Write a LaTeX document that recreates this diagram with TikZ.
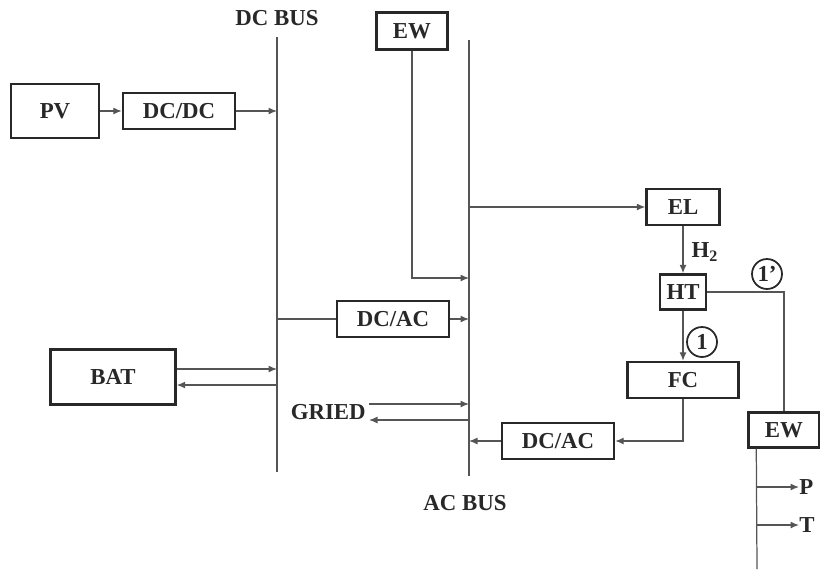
\documentclass[tikz,border=0pt]{standalone}
\usepackage{fontspec}
\setmainfont{Liberation Serif}
\definecolor{wirecol}{RGB}{85,85,85}
\definecolor{edgecol}{RGB}{40,40,40}
\usetikzlibrary{arrows.meta,calc}

\begin{document}
\begin{tikzpicture}[x=0.02cm,y=-0.02cm,
    lbl/.style={font=\fontsize{13}{15}\selectfont\bfseries,inner sep=0pt,text=edgecol},
    blk/.style 2 args={draw=edgecol,line width=1.4pt,lbl,minimum width=#1*0.02cm,minimum height=#2*0.02cm},
    ring/.style={draw=edgecol,circle,line width=1pt,lbl,minimum size=0.6cm},
    wire/.style={draw=wirecol,line width=0.7pt},
    >={Latex[length=1.7mm,width=1.4mm]}]
  \useasboundingbox (0,0) rectangle (820,569);
  \node[blk={88}{54}] (pv) at (55,111) {PV};
  \node[blk={112}{36}] (dcdc) at (179,111) {DC/DC};
  \node[blk={71}{37}] (ewt) at (412,31) {EW};
  \node[blk={112}{36}] (dcac) at (393,319) {DC/AC};
  \node[blk={125}{55}] (bat) at (113,377) {BAT};
  \node[blk={73}{36}] (el) at (683,207) {EL};
  \node[blk={46}{35}] (ht) at (683,292) {HT};
  \node[blk={111}{36}] (fc) at (683,380) {FC};
  \node[blk={112}{36}] (dcacb) at (558,441) {DC/AC};
  \node[blk={71}{35}] (ewr) at (784,430) {EW};
  \node[lbl] (dclbl) at (277,18) {DC BUS};
  \node[lbl] (aclbl) at (465,503) {AC BUS};
  \node[lbl,anchor=east] (gried) at (366,412) {GRIED};
  \node[lbl] (h2) at (705,252) {H\textsubscript{2}};
  \node[ring] (one) at (702,342) {1};
  \node[ring] (onep) at (767,274) {1'};
  \node[lbl,anchor=west] (p) at (799,487) {P};
  \node[lbl,anchor=west] (t) at (799,525) {T};
  \coordinate (dca) at (277,37);
  \coordinate (dcb) at (277,472);
  \coordinate (aca) at (469,40);
  \coordinate (acb) at (469,476);
  \coordinate (acew) at (469,278);
  \coordinate (batin) at ($(bat.east)+(0,-8)$);
  \coordinate (batout) at ($(bat.east)+(0,8)$);
  \coordinate (grin) at ($(gried.east)+(3,-8)$);
  \coordinate (grout) at ($(gried.east)+(3,8)$);
  \coordinate (tap) at ($(ewr.south west)+(9,0)$);
  \coordinate (tapend) at (757,569);
  \draw[wire] (dca) -- (dcb);
  \draw[wire] (aca) -- (acb);
  \draw[wire,->] (pv) -- (dcdc);
  \draw[wire,->] (dcdc) -- (dcdc -| dca);
  \draw[wire] (dcac -| dca) -- (dcac);
  \draw[wire,->] (dcac) -- (dcac -| aca);
  \draw[wire,->] (batin) -- (batin -| dca);
  \draw[wire,->] (batout -| dca) -- (batout);
  \draw[wire,->] (grin) -- (grin -| aca);
  \draw[wire,->] (grout -| aca) -- (grout);
  \draw[wire,->] (ewt.south) |- (acew);
  \draw[wire,->] (el -| aca) -- (el);
  \draw[wire,->] (el) -- (ht);
  \draw[wire,->] (ht) -- (fc);
  \draw[wire] (ht) -| (ewr);
  \draw[wire,->] (fc) |- (dcacb);
  \draw[wire,->] (dcacb) -- (dcacb -| aca);
  \draw[wire] (tap) -- (tapend);
  \foreach \o in {p,t}
    \draw[wire,->] (tap |- \o) -- (\o);
\end{tikzpicture}
\end{document}
